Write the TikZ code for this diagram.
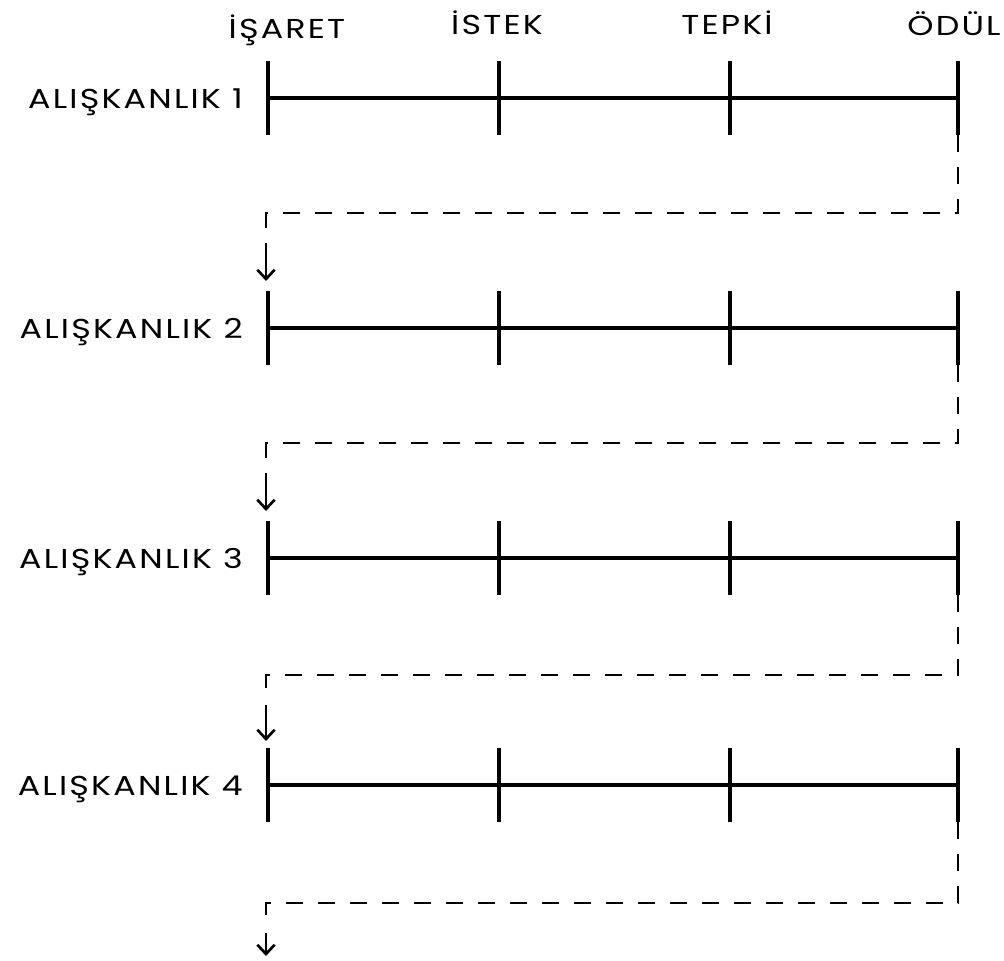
\documentclass[tikz,border=0pt]{standalone}
\usepackage{fontspec}
\setmainfont{Poppins}[FakeStretch=1.22, LetterSpace=8]
\usetikzlibrary{arrows.meta,calc}
\begin{document}
\begin{tikzpicture}[x=0.75pt,y=-0.75pt,
  lbl/.style={font=\fontsize{20.5}{24}\selectfont, inner sep=0pt, anchor=base},
  rowlbl/.style={lbl, anchor=base east},
  axis/.style={line width=3pt},
  tick/.style={line width=3.2pt},
  loop/.style={line width=2.2pt, dash pattern=on 13pt off 11pt},
  arr/.style={line width=2.2pt, -{Straight Barb[length=7pt,width=13pt,line width=2pt]}}]
\useasboundingbox (0,0) rectangle (1004,961);
% header
\node[lbl] (h1) at (287,38) {İŞARET};
\node[lbl] (h2) at (497,34) {İSTEK};
\node[lbl] (h3) at (727,34) {TEPKİ};
\node[lbl] (h4) at (954,35) {ÖDÜL};
\foreach \r/\y in {1/98,2/328,3/558,4/785}{
  \node[rowlbl] (L\r) at (243,\y+10) {ALIŞKANLIK \r};
  \coordinate (a\r) at (268,\y);
  \coordinate (b\r) at (499,\y);
  \coordinate (c\r) at (730,\y);
  \coordinate (d\r) at (958,\y);
  \draw[axis] (a\r) -- (d\r);
  \foreach \p in {a,b,c,d}{
    \draw[tick] ($(\p\r)+(0,-37)$) -- ($(\p\r)+(0,37)$);
  }
}
% dashed connectors
\foreach \r/\ny/\tip in {1/213/281,2/443/511,3/675/741,4/903/956}{
  \coordinate (s\r) at (958,\ny);
  \coordinate (t\r) at (266,\ny);
  \coordinate (e\r) at (266,\tip);
  \draw[loop] ($(d\r)+(0,37)$) -- (s\r) -- (t\r) -- ($(t\r)+(0,22)$);
  \draw[arr] ($(t\r)+(0,30)$) -- (e\r);
}
\end{tikzpicture}
\end{document}
